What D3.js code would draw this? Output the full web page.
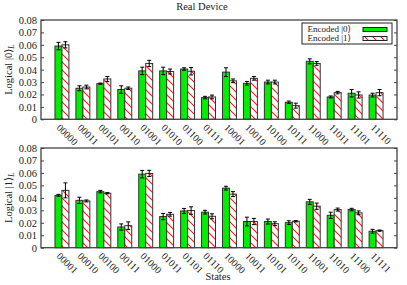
<!DOCTYPE html>
<html>
<head>
<meta charset="utf-8">
<script src="https://cdn.jsdelivr.net/npm/d3@7"></script>
<style>
  body { margin: 0; background: #fff; }
  text { font-family: "Liberation Serif", "DejaVu Serif", serif; fill: #222; }
</style>
</head>
<body>
<div id="chart"></div>
<script>
// Data
const topStates = ['00000', '00011', '00101', '00110', '01001', '01010', '01100', '01111',
  '10001', '10010', '10100', '10111', '11000', '11011', '11101', '11110'];
const top0 = [0.059, 0.025, 0.0287, 0.024, 0.039, 0.039, 0.0405, 0.0175, 0.038, 0.029, 0.030, 0.0137, 0.0467, 0.018, 0.021, 0.0195];
const top0Err = [0.003, 0.002, 0.0005, 0.003, 0.003, 0.003, 0.001, 0.001, 0.0035, 0.0015, 0.0015, 0.001, 0.002, 0.0008, 0.003, 0.0015];
const top1 = [0.060, 0.026, 0.0325, 0.025, 0.045, 0.0385, 0.0387, 0.018, 0.031, 0.033, 0.030, 0.011, 0.045, 0.0215, 0.0196, 0.0215];
const top1Err = [0.0025, 0.0015, 0.002, 0.001, 0.0025, 0.002, 0.003, 0.0015, 0.0015, 0.0015, 0.0015, 0.002, 0.0015, 0.001, 0.0025, 0.0025];

const botStates = ['00001', '00010', '00100', '00111', '01000', '01011', '01101', '01110',
  '10000', '10011', '10101', '10110', '11001', '11010', '11100', '11111'];
const bot0 = [0.042, 0.038, 0.045, 0.0166, 0.059, 0.025, 0.0295, 0.0285, 0.0478, 0.021, 0.021, 0.0201, 0.0368, 0.026, 0.0306, 0.0132];
const bot0Err = [0.0008, 0.0025, 0.001, 0.0025, 0.003, 0.0025, 0.002, 0.0015, 0.0015, 0.0035, 0.002, 0.0015, 0.002, 0.0025, 0.001, 0.0015];
const bot1 = [0.046, 0.0375, 0.0437, 0.0177, 0.0596, 0.0268, 0.0298, 0.0252, 0.043, 0.021, 0.0193, 0.0212, 0.0333, 0.0306, 0.028, 0.0137];
const bot1Err = [0.006, 0.0008, 0.0005, 0.003, 0.0025, 0.0015, 0.003, 0.002, 0.002, 0.0025, 0.0015, 0.0005, 0.0025, 0.0012, 0.0015, 0.0005];

const yTicks = [0, 0.01, 0.02, 0.03, 0.04, 0.05, 0.06, 0.07, 0.08];
const seriesNames = ['Encoded |0⟩', 'Encoded |1⟩'];

const width = 407, height = 285;
const left = 41, right = 397;

const svg = d3.select('#chart').append('svg')
  .attr('width', width)
  .attr('height', height);

const defs = svg.append('defs');
const pat = defs.append('pattern')
  .attr('id', 'hatch')
  .attr('patternUnits', 'userSpaceOnUse')
  .attr('width', 8)
  .attr('height', 8);
pat.append('rect').attr('width', 8).attr('height', 8).attr('fill', '#fff');
pat.append('path')
  .attr('d', 'M-1,-1 L9,9 M-1,7 L1,9 M7,-1 L9,1')
  .attr('stroke', '#ff1a1a')
  .attr('stroke-width', 1.1);

const x = d3.scaleLinear().domain([-1, 16]).range([left, right]);
const barW = 1 / 3;

function panel(states, v0, e0, v1, e1, top, bottom, ket) {
  const y = d3.scaleLinear().domain([0, 0.08]).range([bottom, top]);
  const g = svg.append('g');

  // bars
  const series = [
    { vals: v0, errs: e0, off: -barW, fill: '#00ee00' },
    { vals: v1, errs: e1, off: 0, fill: 'url(#hatch)' }
  ];
  series.forEach(s => {
    g.selectAll(null)
      .data(s.vals)
      .join('rect')
      .attr('x', (d, i) => x(i + s.off))
      .attr('y', d => y(d))
      .attr('width', x(barW) - x(0))
      .attr('height', d => y(0) - y(d))
      .attr('fill', s.fill)
      .attr('stroke', '#333')
      .attr('stroke-width', 1);

    const eb = g.selectAll(null)
      .data(s.vals.map((d, i) => ({ v: d, e: s.errs[i], i })))
      .join('g');
    const cx = d => x(d.i + s.off + barW / 2);
    eb.append('line')
      .attr('x1', cx).attr('x2', cx)
      .attr('y1', d => y(d.v - d.e)).attr('y2', d => y(d.v + d.e));
    eb.append('line')
      .attr('x1', d => cx(d) - 2).attr('x2', d => cx(d) + 2)
      .attr('y1', d => y(d.v - d.e)).attr('y2', d => y(d.v - d.e));
    eb.append('line')
      .attr('x1', d => cx(d) - 2).attr('x2', d => cx(d) + 2)
      .attr('y1', d => y(d.v + d.e)).attr('y2', d => y(d.v + d.e));
    eb.selectAll('line').attr('stroke', '#000').attr('stroke-width', 1);
  });

  // axes
  const ax = g.append('g')
    .attr('transform', `translate(${left},0)`)
    .call(d3.axisLeft(y).tickValues(yTicks)
      .tickSizeInner(-3).tickSizeOuter(0).tickPadding(4)
      .tickFormat(d => d === 0 ? '0' : d3.format('.2f')(d)));
  ax.select('.domain').remove();
  ax.selectAll('line').attr('stroke', '#444');
  ax.selectAll('text').style('font-size', '10.5px').attr('fill', '#222')
    .style('font-family', '"Liberation Serif", serif');

  const axR = g.append('g')
    .attr('transform', `translate(${right},0)`)
    .call(d3.axisRight(y).tickValues(yTicks)
      .tickSizeInner(-3).tickSizeOuter(0).tickFormat(''));
  axR.select('.domain').remove();
  axR.selectAll('line').attr('stroke', '#444');

  g.append('rect')
    .attr('x', left).attr('y', top)
    .attr('width', right - left).attr('height', bottom - top)
    .attr('fill', 'none')
    .attr('stroke', '#444')
    .attr('stroke-width', 1.3);

  // x labels
  g.selectAll(null)
    .data(states)
    .join('text')
    .attr('transform', (d, i) => `translate(${x(i) - 1},${bottom + 4}) rotate(45)`)
    .attr('dy', '0.7em')
    .style('font-size', '10px')
    .text(d => d);

  // y title
  const yt = g.append('text')
    .attr('transform', `translate(12,${(top + bottom) / 2}) rotate(-90)`)
    .attr('text-anchor', 'middle')
    .style('font-size', '10.5px');
  yt.append('tspan').text(`Logical |${ket}⟩`);
  yt.append('tspan').attr('dy', 2).style('font-size', '7.5px').style('font-style', 'italic').text('L');
}

panel(topStates, top0, top0Err, top1, top1Err, 20, 119.3, 0);
panel(botStates, bot0, bot0Err, bot1, bot1Err, 148, 247.7, 1);

// title and x title
svg.append('text')
  .attr('x', 202).attr('y', 10)
  .attr('text-anchor', 'middle')
  .style('font-size', '10.5px')
  .text('Real Device');

svg.append('text')
  .attr('x', 218).attr('y', 280)
  .attr('text-anchor', 'middle')
  .style('font-size', '10.5px')
  .text('States');

// legend
const legend = svg.append('g');
legend.append('rect')
  .attr('x', 302).attr('y', 23)
  .attr('width', 90).attr('height', 21)
  .attr('fill', '#fff')
  .attr('stroke', '#222')
  .attr('stroke-width', 1);
const legendFills = ['#00ee00', 'url(#hatch)'];
seriesNames.forEach((name, i) => {
  legend.append('text')
    .attr('x', 351).attr('y', 31.5 + i * 9.2)
    .attr('text-anchor', 'end')
    .style('font-size', '9px')
    .text(name);
  legend.append('rect')
    .attr('x', 363).attr('y', 27.5 + i * 9)
    .attr('width', 24).attr('height', 4)
    .attr('fill', legendFills[i])
    .attr('stroke', '#222')
    .attr('stroke-width', 1);
});
</script>
</body>
</html>
